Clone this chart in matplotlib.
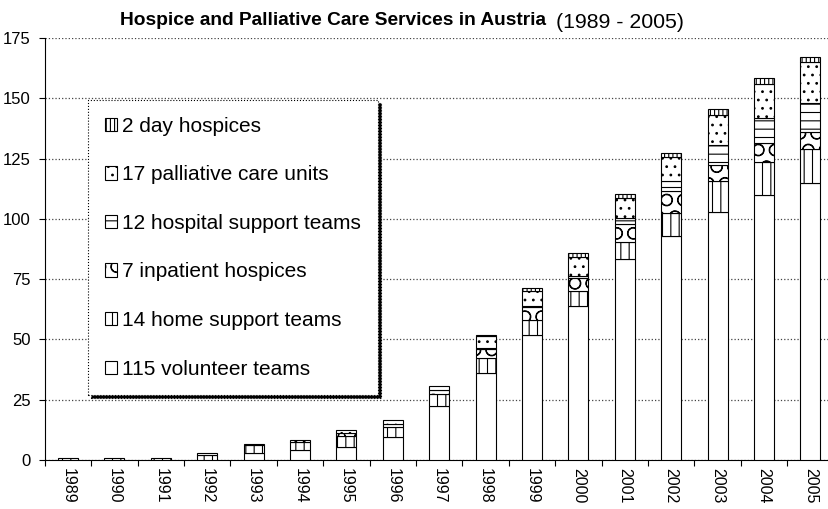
import numpy as np
import matplotlib
matplotlib.use("Agg")
import matplotlib.pyplot as plt
from matplotlib.patches import Patch

plt.rcParams["font.family"] = ["Liberation Sans", "DejaVu Sans"]
plt.rcParams["hatch.linewidth"] = 0.8

years = [str(y) for y in range(1989, 2006)]

volunteer = [0, 0, 0, 0, 3, 4, 5.5, 9.5, 22.5, 36, 52, 64, 83.5, 93, 103, 110, 115]
home = [1, 1, 1, 2, 3.2, 3.5, 4.5, 4, 5, 6.5, 6, 6, 7, 9.5, 12.5, 13.5, 14]
inpatient = [0, 0, 0, 0, 0, 0, 1.4, 1.5, 1.5, 3.5, 5.5, 5.5, 7.5, 9, 7, 8, 7]
hospital = [0, 0, 0, 0, 0, 0, 0, 0, 0, 0.5, 0.5, 1, 2.5, 4, 8, 10.5, 12]
palliative = [0, 0, 0, 1, 0.5, 1, 1, 1.5, 1.5, 5, 6, 7.5, 8, 10, 12.5, 14, 17]
day = [0, 0, 0, 0, 0, 0, 0, 0, 0, 0.5, 1.5, 2, 2, 2, 2.5, 2.5, 2]

series = [
    (volunteer, "115 volunteer teams", ""),
    (home, "14 home support teams", "||"),
    (inpatient, "7 inpatient hospices", "O"),
    (hospital, "12 hospital support teams", "--"),
    (palliative, "17 palliative care units", ".."),
    (day, "2 day hospices", "||||"),
]

W, H = 829, 509
fig = plt.figure(figsize=(W / 100, H / 100), dpi=100)
ax = fig.add_axes([44.8 / W, 49 / H, 788.8 / W, 422 / H])

x = np.arange(len(years))
bottom = np.zeros(len(years))
handles = []
for vals, label, hatch in series:
    vals = np.array(vals, dtype=float)
    lw = [0.8 if v > 0 else 0 for v in vals]
    ax.bar(x, vals, 0.43, bottom=bottom, color="white", edgecolor="black",
           linewidth=lw, hatch=hatch, zorder=3)
    bottom += vals
    handles.append(Patch(facecolor="white", edgecolor="black", linewidth=0.8,
                         hatch=hatch, label=label))

ax.set_xlim(-0.5, 16.5)
ax.set_ylim(0, 175)
ax.set_yticks(np.arange(0, 176, 25))
ax.tick_params(axis="y", labelsize=12, length=4, width=0.8, direction="out", pad=6)
ax.set_xticks(x)
ax.set_xticklabels(years, rotation=-90, fontsize=11.5)
ax.set_xticks(np.arange(-0.5, 17, 1), minor=True)
ax.tick_params(axis="x", which="major", length=0, pad=6)
ax.tick_params(axis="x", which="minor", length=4, width=0.8)
ax.grid(axis="y", linestyle=":", color="#444444", linewidth=0.9, zorder=0)
ax.spines["top"].set_visible(False)
ax.spines["right"].set_visible(False)

leg = ax.legend(handles=handles[::-1], loc="upper left",
                bbox_to_anchor=(88 / W, 1 - 100 / H), bbox_transform=fig.transFigure,
                fontsize=15, handlelength=0.6, handleheight=0.6, handletextpad=0.25,
                labelspacing=1.42, borderpad=0.8, borderaxespad=0, fancybox=False,
                shadow={"color": "black", "alpha": 1}, framealpha=1)
leg.get_frame().set_edgecolor("black")
leg.get_frame().set_linestyle(":")
leg.get_frame().set_linewidth(0.8)
leg.set_zorder(5)

fig.text(120 / W, 1 - 25 / H, "Hospice and Palliative Care Services in Austria",
         fontsize=13.8, fontweight="bold", ha="left", va="baseline")
fig.text(556 / W, 1 - 28 / H, "(1989 - 2005)", fontsize=15.3, ha="left", va="baseline")

fig.savefig("out.png", dpi=100)
